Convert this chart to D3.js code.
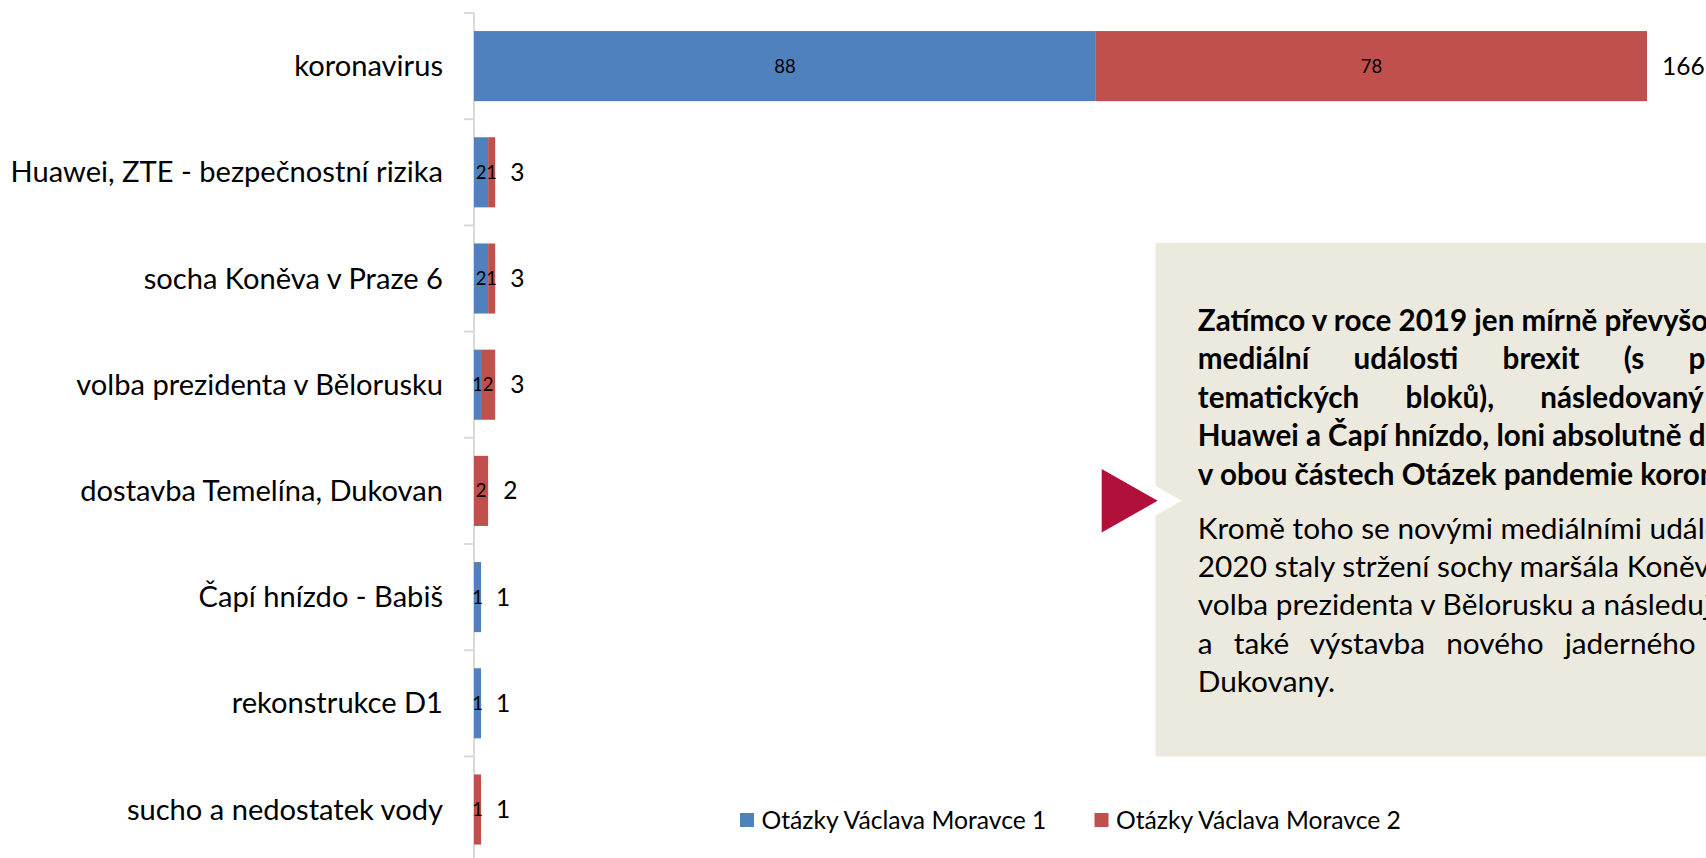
<!DOCTYPE html>
<html>
<head>
<meta charset="utf-8">
<script src="https://cdn.jsdelivr.net/npm/d3@7"></script>
<style>
  html, body { margin: 0; padding: 0; overflow: hidden; background: #fff; }
  svg { display: block; }
  text { font-family: Lato, "Open Sans", sans-serif; fill: #000; }
</style>
</head>
<body>
<svg id="chart" width="1706" height="858"></svg>
<script>
// ---- data ----
const categories = [
  "koronavirus",
  "Huawei, ZTE - bezpečnostní rizika",
  "socha Koněva v Praze 6",
  "volba prezidenta v Bělorusku",
  "dostavba Temelína, Dukovan",
  "Čapí hnízdo - Babiš",
  "rekonstrukce D1",
  "sucho a nedostatek vody"
];
const seriesNames = ["Otázky Václava Moravce 1", "Otázky Václava Moravce 2"];
const series1 = [88, 2, 2, 1, 0, 1, 1, 0];
const series2 = [78, 1, 1, 2, 2, 0, 0, 1];
const colors = ["#4F81BD", "#C0504D"];

const boldLines = [
  "Zatímco v roce 2019 jen mírně převyšoval ostatní",
  "mediální události brexit (s počtem 9",
  "tematických bloků), následovaný kauzou",
  "Huawei a Čapí hnízdo, loni absolutně dominovala",
  "v obou částech Otázek pandemie koronaviru."
];
const boldSpacing = [0, 37, 39, 0, 0];
const regularLines = [
  "Kromě toho se novými mediálními událostmi roku",
  "2020 staly stržení sochy maršála Koněva v Praze 6,",
  "volba prezidenta v Bělorusku a následující protesty",
  "a také výstavba nového jaderného bloku elektrárny",
  "Dukovany."
];
const regularSpacing = [0, 0, 0, 13.5, 0];

// ---- layout ----
const svg = d3.select("#chart");
const totals = series1.map((v, i) => v + series2[i]);
const stacked = d3.stack().keys([0, 1]).value((d, k) => d[k])(series1.map((v, i) => [v, series2[i]]));

const x = d3.scaleLinear().domain([0, d3.max(totals)]).range([474, 1647]);
const y = d3.scaleBand().domain(categories).range([13, 862.6]).paddingInner(0.34).paddingOuter(0.17);

// axis line and ticks (between categories)
const axisG = svg.append("g");
axisG.append("line")
  .attr("x1", x(0)).attr("x2", x(0))
  .attr("y1", y.range()[0]).attr("y2", y.range()[1])
  .attr("stroke", "#D9D9D9").attr("stroke-width", 2);
const boundaries = d3.range(categories.length + 1).map(i => y.range()[0] + i * y.step());
axisG.selectAll("line.tick").data(boundaries).join("line")
  .attr("class", "tick")
  .attr("x1", x(0) - 10).attr("x2", x(0))
  .attr("y1", d => d).attr("y2", d => d)
  .attr("stroke", "#D9D9D9").attr("stroke-width", 2);

// category labels
svg.append("g").selectAll("text").data(categories).join("text")
  .attr("x", x(0) - 31)
  .attr("y", d => y(d) + y.bandwidth() / 2)
  .attr("dy", "0.35em")
  .attr("text-anchor", "end")
  .style("font-size", "29.1px")
  .text(d => d);

// bars
stacked.forEach((layer, k) => {
  const g = svg.append("g");
  g.selectAll("rect").data(layer).join("rect")
    .attr("x", d => x(d[0]))
    .attr("y", (d, i) => y(categories[i]))
    .attr("width", d => x(d[1]) - x(d[0]))
    .attr("height", y.bandwidth())
    .attr("fill", colors[k]);
  const labelled = layer.map((d, i) => ({ v: d[1] - d[0], x0: d[0], x1: d[1], cat: categories[i] }))
    .filter(d => d.v > 0);
  g.selectAll("text").data(labelled).join("text")
    .attr("x", d => (x(d.x0) + x(d.x1)) / 2)
    .attr("y", d => y(d.cat) + y.bandwidth() / 2)
    .attr("dy", "0.35em")
    .attr("text-anchor", "middle")
    .style("font-size", "18.5px")
    .text(d => d.v);
});

// totals
svg.append("g").selectAll("text").data(totals).join("text")
  .attr("x", d => x(d) + 15)
  .attr("y", (d, i) => y(categories[i]) + y.bandwidth() / 2)
  .attr("dy", "0.35em")
  .style("font-size", "24.5px")
  .text(d => d);

// legend
const legendX = [740, 1094.5];
const lg = svg.append("g");
seriesNames.forEach((name, k) => {
  lg.append("rect").attr("x", legendX[k]).attr("y", 813).attr("width", 14).attr("height", 14).attr("fill", colors[k]);
  lg.append("text").attr("x", legendX[k] + 21.5).attr("y", 820).attr("dy", "0.35em")
    .style("font-size", "24.7px").text(name);
});

// annotation box
const box = { x: 1155.5, y: 243, w: 700, h: 513.5 };
svg.append("rect").attr("x", box.x).attr("y", box.y).attr("width", box.w).attr("height", box.h).attr("fill", "#ECEADF");
const tip = { x: 1157.7, y: 500.7, len: 56, half: 31.8 };
svg.append("path")
  .attr("d", `M${tip.x + 24 - tip.len},${tip.y - tip.half}L${tip.x + 24},${tip.y}L${tip.x + 24 - tip.len},${tip.y + tip.half}Z`)
  .attr("fill", "#fff");
svg.append("path")
  .attr("d", `M${tip.x - tip.len},${tip.y - tip.half}L${tip.x},${tip.y}L${tip.x - tip.len},${tip.y + tip.half}Z`)
  .attr("fill", "#B0103A");

const textX = 1197.8;
const lineH = 38.4;
svg.append("g").selectAll("text").data(boldLines).join("text")
  .attr("x", textX).attr("y", (d, i) => 331 + i * lineH)
  .style("font-size", "29.6px").style("font-weight", "bold")
  .style("word-spacing", (d, i) => boldSpacing[i] + "px")
  .text(d => d);
svg.append("g").selectAll("text").data(regularLines).join("text")
  .attr("x", textX).attr("y", (d, i) => 538.5 + i * lineH)
  .style("font-size", "29.8px")
  .style("word-spacing", (d, i) => regularSpacing[i] + "px")
  .text(d => d);
</script>
</body>
</html>
